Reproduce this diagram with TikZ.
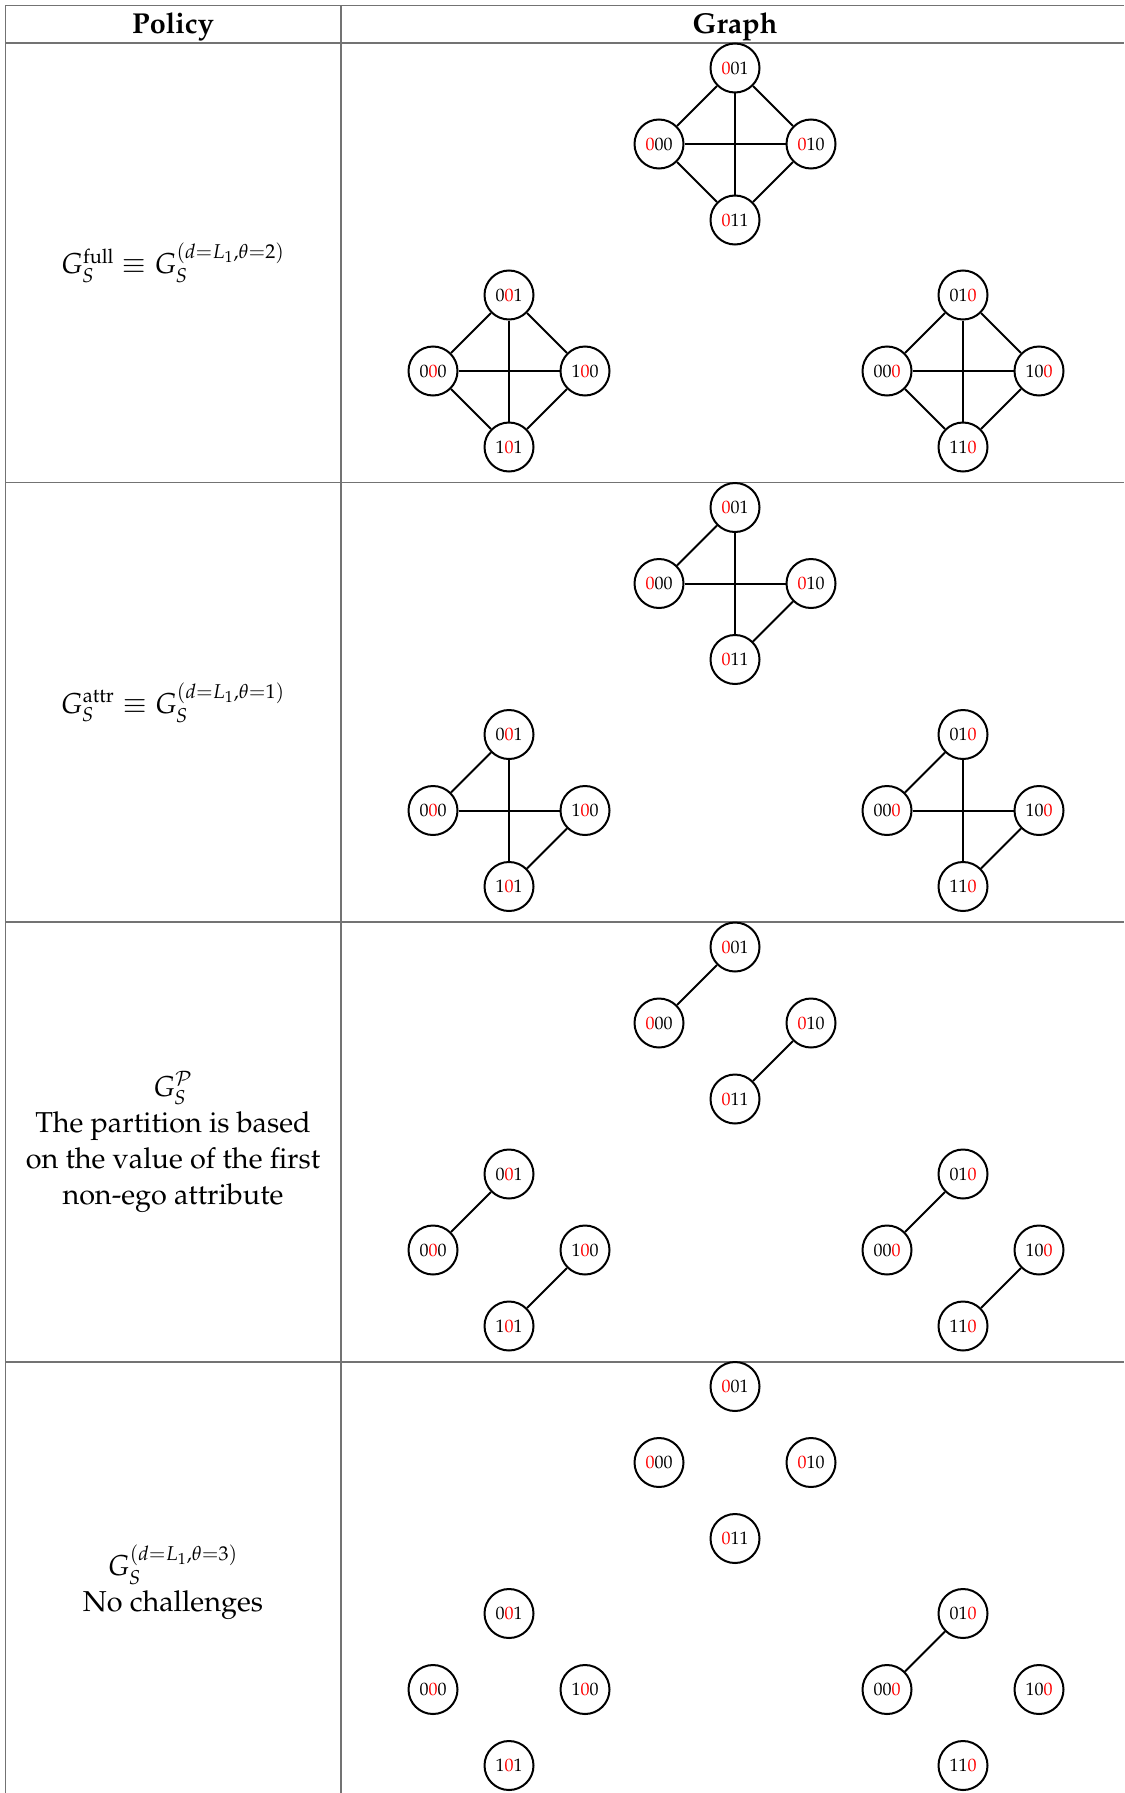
\documentclass[tikz,border=0pt]{standalone}
\usepackage[T1]{fontenc}
\usepackage{mathpazo}
\usepackage{xcolor}
\usepackage{tikz}
\usetikzlibrary{positioning}
\newcommand{\redbit}[1]{\textcolor{red}{#1}}

\begin{document}
\begin{tikzpicture}[x=0.5pt, y=-0.5pt,
    garis/.style={draw=black!55, line width=0.75pt},
    simpul/.style={circle, draw, line width=1pt, minimum size=24.5pt,
                   inner sep=0pt, font=\fontsize{9}{11}\selectfont},
    sisi/.style={line width=1pt},
    kebijakan/.style={align=center, font=\fontsize{14.4}{18}\selectfont},
    judul/.style={font=\fontsize{14.4}{18}\selectfont\bfseries}
  ]
    \useasboundingbox (0,0) rectangle (1124,1793);
    % tabel
    \draw[garis] (1124,5.5) -| (5.5,1793);
    \draw[garis] (341,5.5) -- (341,1793);
    \foreach \yy in {43, 482.5, 922, 1362}
      \draw[garis] (5.5,\yy) -- (1124,\yy);
    \node[judul] (hpol) at (173,26.5) {Policy};
    \node[judul] (hgra) at (735,26.5) {Graph};
    % kolom kebijakan
    \node[kebijakan] (pol1) at (173,263)
      {$G_S^{\mathrm{full}} \equiv G_S^{(d=L_1,\theta=2)}$};
    \node[kebijakan] (pol2) at (173,702.5)
      {$G_S^{\mathrm{attr}} \equiv G_S^{(d=L_1,\theta=1)}$};
    \node[kebijakan] (pol3) at (173,1142)
      {$G_S^{\mathcal{P}}$\\The partition is based\\on the value of the first\\non-ego attribute};
    \node[kebijakan] (pol4) at (173,1582)
      {$G_S^{(d=L_1,\theta=3)}$\\No challenges};
    % graf tiap baris
    \foreach \r/\yo in {1/0, 2/439.5, 3/879, 4/1318.5} {
      \node[simpul] (a\r t) at (735,68+\yo)  {\redbit{0}01};
      \node[simpul] (a\r l) at (659,144+\yo) {\redbit{0}00};
      \node[simpul] (a\r r) at (811,144+\yo) {\redbit{0}10};
      \node[simpul] (a\r b) at (735,220+\yo) {\redbit{0}11};
      \node[simpul] (b\r t) at (509,295+\yo) {0\redbit{0}1};
      \node[simpul] (b\r l) at (433,371+\yo) {0\redbit{0}0};
      \node[simpul] (b\r r) at (585,371+\yo) {1\redbit{0}0};
      \node[simpul] (b\r b) at (509,447+\yo) {1\redbit{0}1};
      \node[simpul] (c\r t) at (963,295+\yo) {01\redbit{0}};
      \node[simpul] (c\r l) at (887,371+\yo) {00\redbit{0}};
      \node[simpul] (c\r r) at (1039,371+\yo) {10\redbit{0}};
      \node[simpul] (c\r b) at (963,447+\yo) {11\redbit{0}};
    }
    % sisi: baris 1 dan 2
    \foreach \g in {a,b,c} {
      \draw[sisi] (\g1t) -- (\g1l);
      \draw[sisi] (\g1t) -- (\g1r);
      \draw[sisi] (\g1l) -- (\g1b);
      \draw[sisi] (\g1r) -- (\g1b);
      \draw[sisi] (\g1l) -- (\g1r);
      \draw[sisi] (\g1t) -- (\g1b);
      \draw[sisi] (\g2t) -- (\g2l);
      \draw[sisi] (\g2r) -- (\g2b);
      \draw[sisi] (\g2l) -- (\g2r);
      \draw[sisi] (\g2t) -- (\g2b);
      \draw[sisi] (\g3t) -- (\g3l);
      \draw[sisi] (\g3r) -- (\g3b);
    }
    % baris 4
    \draw[sisi] (c4t) -- (c4l);
  \end{tikzpicture}
\end{document}
